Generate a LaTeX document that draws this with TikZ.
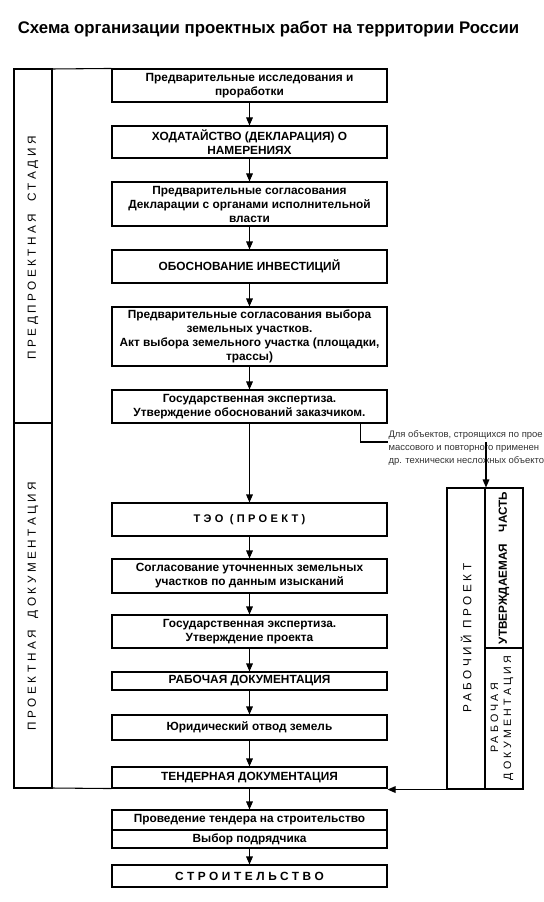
\documentclass[tikz,border=0pt]{standalone}
\usepackage{fontspec}
\setmainfont{Liberation Sans}
\newfontfamily\spaced[LetterSpace=30]{Liberation Sans}
\usetikzlibrary{arrows.meta}

\begin{document}
\begin{tikzpicture}[x=0.75pt,y=-0.75pt,line width=0.8pt,
    box/.style={draw,fill=white,minimum width=206.25pt,inner sep=1pt,align=center,
        font=\fontsize{8.9}{10.5}\selectfont\bfseries},
    arr/.style={-{Triangle[length=6pt,width=5pt]}},
    side/.style={rotate=90,inner sep=0,align=center,font=\fontsize{8.8}{9.75}\selectfont\spaced}]
\useasboundingbox (0,0) rectangle (543,902);
\node[font=\fontsize{12.6}{14}\selectfont\bfseries] (title) at (268.5,29) {Схема организации проектных работ на территории России};

\node[box,minimum height=24.75pt] (b1) at (249.5,85.5) {Предварительные исследования и\\проработки};
\node[box,minimum height=24pt] (b2) at (249.5,142) {ХОДАТАЙСТВО (ДЕКЛАРАЦИЯ) О\\НАМЕРЕНИЯХ};
\node[box,minimum height=33pt] (b3) at (249.5,204) {Предварительные согласования\\Декларации с органами исполнительной\\власти};
\node[box,minimum height=24.75pt] (b4) at (249.5,266.5) {ОБОСНОВАНИЕ ИНВЕСТИЦИЙ};
\node[box,minimum height=44.25pt] (b5) at (249.5,336.5) {Предварительные согласования выбора\\земельных участков.\\Акт выбора земельного участка (площадки,\\трассы)};
\node[box,minimum height=24.75pt] (b6) at (249.5,406.5) {Государственная экспертиза.\\Утверждение обоснований заказчиком.};
\node[box,minimum height=24.75pt,font=\fontsize{8.3}{10.5}\selectfont\spaced\bfseries] (teo) at (249.5,519.5) {ТЭО (ПРОЕКТ)};
\node[box,minimum height=25.5pt] (b8) at (249.5,576) {Согласование уточненных земельных\\участков по данным изысканий};
\node[box,minimum height=24.75pt] (b9) at (249.5,631.5) {Государственная экспертиза.\\Утверждение проекта};
\node[box,minimum height=13.5pt] (b10) at (249.5,681) {РАБОЧАЯ ДОКУМЕНТАЦИЯ};
\node[box,minimum height=18.75pt] (b11) at (249.5,727.5) {Юридический отвод земель};
\node[box,minimum height=15.75pt] (b12) at (249.5,777.5) {ТЕНДЕРНАЯ ДОКУМЕНТАЦИЯ};
\node[box,minimum height=15pt] (b13a) at (249.5,820) {Проведение тендера на строительство};
\node[box,minimum height=13.5pt] (b13b) at (249.5,839) {Выбор подрядчика};
\node[box,minimum height=16.5pt,font=\fontsize{8.9}{10.5}\selectfont\spaced\bfseries] (b14) at (249.5,876) {СТРОИТЕЛЬСТВО};

\foreach \a/\b in {b1/b2,b2/b3,b3/b4,b4/b5,b5/b6,b6/teo,teo/b8,b8/b9,b9/b10,b10/b11,b11/b12,b12/b13a,b13b/b14}
    \draw[arr] (\a) -- (\b);

% stage column on the left
\draw (14,69) rectangle (52,788);
\draw (14,423) -- (52,423);
\draw (52,69) -- (b1.north west);
\draw (52,788) -- (b12.south west);
\node[side] (pre) at (33,248) {ПРЕДПРОЕКТНАЯ\quad СТАДИЯ};
\node[side] (doc) at (33,606) {ПРОЕКТНАЯ\quad ДОКУМЕНТАЦИЯ};

% working project on the right
\node[draw,minimum width=57pt,minimum height=225.75pt,inner sep=0] (rp) at (485,638.5) {};
\draw (rp.north) -- (rp.south);
\draw (485,648) -- (523,648);
\node[side] (rpt) at (466,638) {РАБОЧИЙ ПРОЕКТ};
\node[rotate=90,inner sep=0,font=\fontsize{8.8}{9}\selectfont\bfseries] (utv) at (504,568) {УТВЕРЖДАЕМАЯ\quad ЧАСТЬ};
\node[side,font=\fontsize{8}{9.75}\selectfont\spaced] (rdoc) at (502,718) {РАБОЧАЯ\\ДОКУМЕНТАЦИЯ};

\node[anchor=west,align=left,inner sep=0,text=black!80,font=\fontsize{7.1}{10}\selectfont] (note) at (388,448)
    {Для объектов, строящихся по прое\\массового и повторного применен\\др. технически несложных объекто};
\coordinate (bend) at (388,442);
\coordinate (drop) at (486,442);
\draw (b6.south east) ++(-27,0) |- (bend);
\draw[arr] (drop) -- (drop |- rp.north);
\draw[arr] (rp.south west) -- (rp.south west -| b12.east);
\end{tikzpicture}
\end{document}
